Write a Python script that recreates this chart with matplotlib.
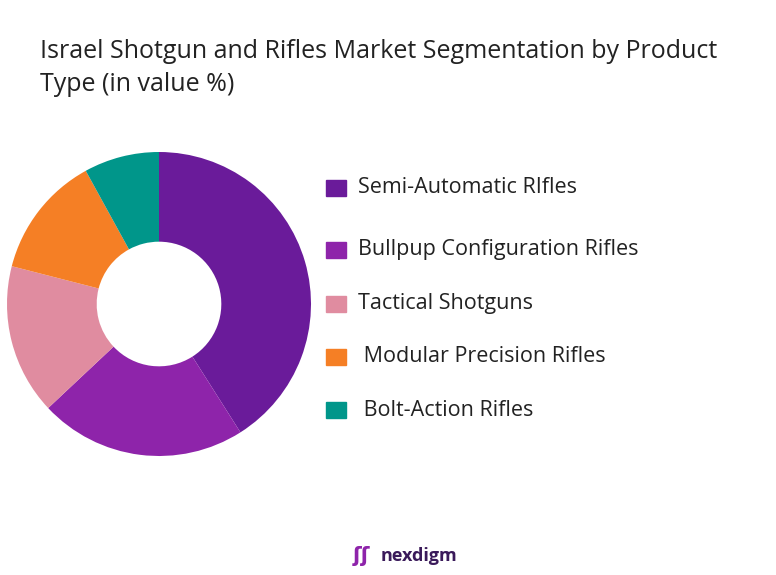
import matplotlib.pyplot as plt
from matplotlib.patches import Rectangle

labels = ["Semi-Automatic RIfles", "Bullpup Configuration Rifles", "Tactical Shotguns",
          " Modular Precision Rifles", " Bolt-Action Rifles"]
shares = [41, 22, 16, 13, 8]
colors = ["#6A1B9A", "#8E24AA", "#E08CA0", "#F57F25", "#00968A"]

fig = plt.figure(figsize=(7.76, 5.75), dpi=100)
ax = fig.add_axes([(159 - 152) / 776, 1 - (304 + 152) / 575, 304 / 776, 304 / 575])
ax.pie(shares, colors=colors, startangle=90, counterclock=False,
       wedgeprops=dict(width=0.59, edgecolor="none"))
ax.set_xlim(-1, 1)
ax.set_ylim(-1, 1)
ax.set_aspect("equal")

fig.text(40 / 776, 1 - 68 / 575, "Israel Shotgun and Rifles Market Segmentation by Product\nType (in value %)",
         fontsize=18, color="#222222", va="center", ha="left", linespacing=1.4, family="Open Sans")

ys = [188, 250, 304, 357, 410]
for lab, col, y in zip(labels, colors, ys):
    fig.patches.append(Rectangle((326 / 776, 1 - (y + 8) / 575), 20 / 776, 16 / 575,
                                 color=col, transform=fig.transFigure))
    fig.text(358 / 776, 1 - y / 575, lab, fontsize=15.5, color="#222222", va="center",
             ha="left", family="Open Sans")

fig.text(0.5 - 0.01, 1 - 556 / 575, "nexdigm", fontsize=13, color="#3a1a5a", ha="left",
         va="center", weight="bold", family="Open Sans")
fig.text(0.5 - 0.045, 1 - 556 / 575, "ʃʃ", fontsize=15, color="#8E24AA", ha="left",
         va="center", weight="bold")

fig.savefig("out.png")
